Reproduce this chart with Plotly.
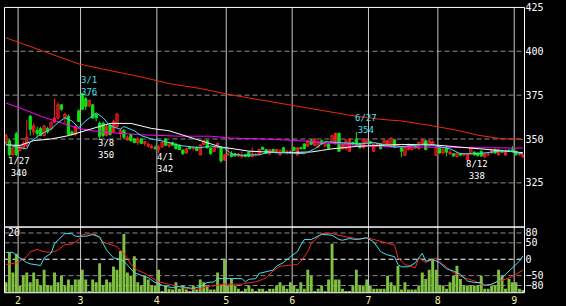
import plotly.graph_objects as go

# ---------------- data ----------------
# trading-day index 0..149 (late Jan .. early Sep)
MONTH_START_IDX = [4, 22, 44, 64, 83, 105, 125, 147]
MONTH_LABELS = ["2", "3", "4", "5", "6", "7", "8", "9"]

OPEN = [348, 349, 341, 353, 343.5, 345, 346, 363, 354, 355,
        356, 352, 356, 355.5, 359.5, 362, 369.5, 362, 363, 354,
        352.5, 366, 376, 373, 369, 369.5, 364, 359, 359, 352,
        358, 354, 357, 353, 355, 349.5, 352.5, 350, 348, 350,
        347.5, 346, 345, 345, 344, 345.5, 350, 346, 348, 347,
        346.5, 343.7, 342, 345.5, 344.5, 345, 341, 347, 349, 344.8,
        343, 345.5, 345.5, 338, 341, 341.5, 341.5, 340.3, 340, 341,
        342.5, 340, 341, 341, 345.3, 344, 341.5, 344, 342, 341,
        345, 342.5, 342, 345.3, 341, 345, 347.2, 346, 349, 346.5,
        345.5, 349, 346, 347.2, 348, 347.2, 353.3, 344.4, 344.5, 343,
        348, 350, 347.5, 345, 347.5, 348.5, 343, 347, 347.2, 346.5,
        346.5, 345.5, 349.5, 346, 345.3, 340.7, 344, 344, 346, 344.5,
        346.5, 349, 346, 347, 340.7, 345.3, 342, 345, 341.5, 341.6,
        340, 341.6, 341, 338, 341.5, 342.5, 342, 343, 340, 341,
        342, 344, 341, 343.5, 340.8, 343.5, 344, 343, 341, 339.8]
HIGH = [353, 350, 346, 354, 347, 349, 361, 364, 359, 357,
        357, 358, 357, 360, 373, 371, 370, 365, 364, 355,
        358, 367, 376.3, 374, 372.5, 370, 364.5, 360, 360, 358,
        358.5, 361, 365, 356, 355.5, 352, 353, 350.5, 351, 350.5,
        349, 348, 347, 346.5, 346.5, 349, 350.5, 348.5, 348.5, 348,
        347, 344, 345, 346, 346, 346, 347, 349.5, 349.5, 345.5,
        346, 348, 346, 341.5, 345.5, 343, 342, 341.8, 343, 341.5,
        343, 345, 342, 344.5, 345.5, 344.3, 344, 344.5, 344.5, 344,
        345.5, 343.5, 343.5, 345.5, 345.5, 345.5, 347.5, 349.5, 350, 350.5,
        349, 349.5, 348, 347.5, 352, 353.5, 353.5, 347.5, 350, 350.5,
        348.5, 354, 348, 350.5, 349.5, 349, 347.5, 348, 347.5, 349.5,
        349.5, 351, 350, 347, 345.5, 345.5, 347.5, 346.5, 346.5, 348.5,
        350, 349.5, 349.5, 349, 345.5, 345.5, 345, 346, 343.5, 342,
        342.5, 342, 342, 341.8, 345.5, 343, 342.5, 343.5, 342.5, 342.5,
        344, 344.5, 344.5, 344, 344, 344.5, 346, 343.5, 342, 341.2]
LOW = [347, 340, 340.5, 340.5, 343, 344, 345.5, 352, 352, 351,
       351.5, 351.5, 353, 355, 359, 361, 366, 359, 352, 352,
       352, 359.5, 366.5, 366.5, 368, 361.5, 360, 350, 351, 351.5,
       352, 353.5, 356.5, 350.5, 350, 349, 348.5, 347.5, 346.5, 347,
       346, 345, 344.5, 344, 342, 345, 346, 345, 346, 344,
       343.5, 341, 341.5, 344, 343.5, 343, 340.5, 346.5, 344.5, 341,
       342.5, 344.5, 336.5, 337.5, 340.5, 339.5, 340, 339.8, 339, 339.5,
       339.5, 339.5, 340, 340.5, 343.8, 341.5, 341, 342.5, 341.5, 340.5,
       342, 341, 341.5, 343.3, 340.5, 344, 344, 345.5, 346.5, 346,
       345, 347, 345.5, 344.5, 347.5, 347, 342.6, 344, 343.5, 342.5,
       346.3, 346, 344.5, 344.5, 347, 347, 342.5, 346, 344, 346,
       346, 345, 345, 345.5, 339.8, 340.5, 343.5, 343.5, 344.5, 344,
       346, 343.5, 345.5, 346.5, 340.5, 341.5, 341.5, 340.2, 341, 340,
       339.5, 340.5, 340, 338, 341, 340.5, 340, 339.8, 339, 340.5,
       341.5, 341.5, 340.5, 342, 340.5, 342.5, 342.5, 340.5, 340.5, 339.5]
CLOSE = [352, 341, 345, 341, 346, 347.5, 351, 355.5, 357.5, 353,
         352, 357.5, 354, 359.5, 362, 369.5, 367, 364, 352.5, 352.5,
         357, 360, 367, 368.5, 372, 362, 362, 351.5, 352, 357,
         352.5, 360, 364, 355, 351, 351, 349, 348, 350, 347.5,
         348.5, 347, 346, 344.5, 345.5, 348, 346.5, 348, 346.5, 344.5,
         344, 341.6, 344.5, 344.5, 345, 343.5, 346.5, 349, 345, 341.6,
         345.5, 347.5, 337.5, 341, 341.5, 340, 340.3, 341.5, 341, 340,
         340, 341.5, 341.2, 344, 344, 341.8, 343.8, 343, 344, 343.5,
         342.5, 343, 343, 343.5, 345, 344.5, 344.5, 349, 347, 350,
         348.5, 347.2, 347.5, 344.8, 351.9, 353.3, 343, 347.2, 349, 350,
         347, 346.5, 345, 350, 349, 347.3, 347.2, 347.5, 344.5, 349,
         349, 350.5, 345.3, 346.5, 343, 345.3, 347, 346, 345, 348,
         349.5, 344, 349, 348.5, 345.3, 342, 344, 342.5, 342.5, 340.3,
         342, 340.8, 341.5, 341.6, 345, 341, 340.5, 340.3, 341.5, 341.5,
         343.5, 342, 344, 342.5, 343.5, 343, 343, 341, 341.5, 341]

VOLUME = [3.2, 12.2, 6.2, 11.9, 2.2, 5.2, 6.2, 3.2, 6.2, 4.2,
          2.2, 7.0, 2.2, 2.2, 6.2, 3.2, 5.2, 2.2, 4.0, 2.2,
          4.0, 4.0, 7.0, 4.0, 0.5, 4.0, 3.2, 9.0, 2.2, 4.0,
          3.2, 8.0, 7.0, 12.7, 17.9, 6.2, 5.2, 11.1, 3.2, 2.2,
          5.0, 4.0, 2.2, 2.2, 7.0, 0.5, 2.2, 1.2, 1.0, 3.2,
          1.2, 2.2, 1.0, 0.5, 2.2, 1.0, 4.0, 3.2, 2.0, 1.0,
          1.0, 6.2, 2.2, 10.1, 2.2, 4.2, 2.2, 1.2, 0.5, 1.2,
          2.2, 1.2, 0.5, 1.2, 1.2, 0.5, 1.2, 1.2, 2.2, 3.2,
          2.2, 1.2, 3.2, 2.2, 1.2, 3.2, 1.2, 7.0, 5.2, 0.5,
          1.2, 2.2, 0.5, 4.0, 14.9, 4.0, 4.0, 1.2, 0.5, 0.5,
          2.2, 7.0, 2.2, 2.2, 4.0, 2.2, 1.2, 1.2, 1.2, 1.2,
          5.2, 3.2, 2.2, 8.2, 1.0, 3.2, 1.0, 1.0, 1.0, 2.2,
          6.2, 4.2, 7.0, 10.0, 7.0, 2.2, 2.2, 1.2, 3.2, 5.2,
          8.2, 4.2, 2.2, 2.2, 2.2, 2.2, 2.2, 5.2, 1.2, 1.2,
          2.2, 2.2, 7.0, 5.2, 1.2, 4.2, 3.2, 3.2, 1.2, 0.8]

# moving averages, sampled (day index, price)
MA_LONG_X = [0, 4, 13, 21, 30, 39, 47, 56, 65, 73, 82, 91, 99, 108, 114, 123, 130, 136, 142, 149]
MA_LONG_Y = [407.7, 404.9, 398.4, 392.8, 389.0, 385.4, 381.6, 378.8, 375.1, 372.3,
             369.2, 366.4, 363.6, 361.2, 360.3, 357.5, 355.0, 352.2, 350.4, 349.7]
MA_MID_X = [0, 4, 10, 14, 18, 21, 27, 33, 39, 50, 59, 65, 75, 84, 90, 99, 104, 113, 121, 133, 149]
MA_MID_Y = [370.5, 367.7, 363.0, 360.3, 357.8, 356.0, 354.1, 353.2, 352.4, 351.6, 351.6,
            350.5, 350.0, 349.1, 348.2, 346.7, 346.1, 345.5, 345.4, 345.0, 344.8]
MA_25_X = [0, 4, 8, 13, 18, 21, 27, 30, 36, 42, 47, 53, 56, 62, 66, 70, 79, 88, 91, 94,
           101, 106, 114, 123, 129, 136, 142, 149]
MA_25_Y = [346.7, 346.3, 349.1, 350.0, 351.9, 353.7, 357.5, 358.9, 358.9, 356.0, 354.7,
           351.0, 349.0, 345.4, 344.3, 343.1, 342.2, 342.6, 343.5, 344.4, 345.8, 346.3,
           346.9, 346.7, 345.8, 344.4, 343.5, 342.2]
MA_5_X = [0, 3, 6, 7, 10, 13, 15, 17, 19, 21, 23, 26, 28, 30, 33, 34, 37, 39, 42, 46,
          50, 56, 59, 63, 65, 68, 73, 76, 86, 89, 92, 95, 102, 106, 112, 115, 118, 121,
          128, 131, 136, 140, 144, 149]
MA_5_Y = [347.2, 345.4, 344.4, 348.2, 352.8, 355.6, 359.3, 362.1, 360.3, 356.5, 360.3,
          364.9, 362.1, 357.5, 355.6, 357.1, 354.7, 351.9, 350.0, 348.5, 346.3, 345.0,
          346.0, 344.8, 341.6, 340.7, 341.0, 342.6, 341.6, 344.4, 348.5, 348.2, 347.2,
          348.0, 345.4, 345.8, 346.3, 347.2, 344.4, 341.6, 341.6, 342.6, 343.5, 341.6]

# oscillators (RCI), sampled (day index, value)
RCI_S_X = [0, 2, 4, 6, 7, 10, 11, 13, 14, 16, 17, 19, 20, 23, 25, 27, 28, 29, 31, 33,
           34, 36, 37, 39, 41, 43, 45, 46, 48, 50, 52, 54, 56, 58, 60, 61, 68, 69, 70,
           72, 73, 75, 77, 78, 80, 82, 84, 85, 86, 88, 89, 91, 94, 96, 97, 99, 101, 104,
           106, 108, 110, 112, 113, 114, 116, 118, 120, 121, 123, 125, 127, 129, 131,
           133, 135, 137, 138, 140, 142, 144, 146, 148, 149]
RCI_S_Y = [21, 21, 4, -10, -14, -19, 4, 18, 48, 68, 78, 78, 70, 70, 75, 68, 48, 28, 4, 0,
           -6, -31, -41, -49, -56, -71, -79, -83, -86, -83, -86, -89, -83, -71, -69, -59,
           -59, -69, -61, -59, -43, -39, -33, -21, -10, 8, 23, 43, 60, 60, 65, 76, 73, 60,
           58, 63, 60, 65, 53, 23, 13, 8, -16, -23, -23, -11, 18, -6, 0, -11, -29, -36,
           -46, -66, -71, -71, -79, -76, -66, -46, -26, -6, 10]
RCI_L_X = [0, 3, 4, 6, 7, 9, 11, 13, 15, 17, 19, 21, 22, 24, 26, 28, 30, 32, 33, 35,
           36, 38, 40, 42, 44, 45, 47, 49, 52, 54, 56, 58, 60, 62, 68, 69, 72, 74, 75,
           77, 79, 81, 84, 85, 86, 87, 88, 90, 91, 94, 96, 98, 100, 102, 104, 107, 110,
           112, 113, 115, 118, 119, 121, 122, 124, 126, 129, 132, 135, 138, 140, 142,
           144, 146, 149]
RCI_L_Y = [-16, -11, -6, 8, 23, 30, 23, 21, 28, 45, 46, 60, 75, 78, 75, 53, 45, 38, 28, 4,
           -16, -34, -43, -56, -69, -71, -76, -83, -89, -91, -91, -83, -81, -76, -76,
           -73, -69, -61, -56, -36, -21, -19, -16, -6, 8, 23, 48, 66, 78, 78, 72, 68, 65,
           61, 66, 58, 50, 43, 4, -16, -26, 4, -10, -5, 4, -16, -41, -56, -66, -81, -76,
           -66, -61, -53, -33]

# high / low marks
MARK_IDX = [1, 22, 27, 44, 101, 133]
MARK_DATE = ["1/27", "3/1", "3/8", "4/1", "6/27", "8/12"]
MARK_PRICE = [340, 376, 350, 342, 354, 338]
MARK_KIND = ["low", "high", "low", "low", "high", "low"]

PRICE_TICKS = [425, 400, 375, 350, 325]
RCI_TICKS = [80, 50, 0, -50, -80]
VOL_LABEL = "20"

# ---------------- styling ----------------
W, HGT = 566, 306
PX_L, PX_R = 4.5, 524.5
PY_TOP, PY_MID, PY_BOT = 2.5, 226.5, 293.5
FONT = "DejaVu Sans Mono"
RED = "#ff2020"
GREEN = "#10e010"
CYAN = "#40e0f0"
MAGENTA = "#ff00ff"
LONGRED = "#ee2a08"
VOLC = "#80c040"
GRID = "#8c8c8c"
VGRID = "#c8c8c8"
MONTHC = "#f0f0a8"


def fx(p):
    return p / W


def fy(p):
    return 1 - p / HGT


N = len(OPEN)
idx = list(range(N))
up = [i for i in idx if CLOSE[i] >= OPEN[i]]
dn = [i for i in idx if CLOSE[i] < OPEN[i]]

fig = go.Figure()


def wicks(sel, color):
    xs, ys = [], []
    for i in sel:
        xs += [i, i, None]
        ys += [LOW[i], HIGH[i], None]
    return go.Scatter(x=xs, y=ys, mode="lines", line=dict(color=color, width=1),
                      xaxis="x", yaxis="y", hoverinfo="skip", showlegend=False)


fig.add_trace(wicks(up, RED))
fig.add_trace(wicks(dn, GREEN))

BW = 0.66
fig.add_trace(go.Bar(x=up, y=[max(CLOSE[i] - OPEN[i], 0.3) for i in up],
                     base=[OPEN[i] for i in up], width=BW,
                     marker=dict(color="black", line=dict(color=RED, width=1)),
                     xaxis="x", yaxis="y", showlegend=False))
fig.add_trace(go.Bar(x=dn, y=[max(OPEN[i] - CLOSE[i], 0.3) for i in dn],
                     base=[CLOSE[i] for i in dn], width=BW,
                     marker=dict(color=GREEN, line=dict(color=GREEN, width=1)),
                     xaxis="x", yaxis="y", showlegend=False))

for xs, ys, col in [(MA_LONG_X, MA_LONG_Y, LONGRED), (MA_MID_X, MA_MID_Y, MAGENTA),
                    (MA_25_X, MA_25_Y, "white"), (MA_5_X, MA_5_Y, CYAN)]:
    fig.add_trace(go.Scatter(x=xs, y=ys, mode="lines", line=dict(color=col, width=1),
                             xaxis="x", yaxis="y", showlegend=False, hoverinfo="skip"))

# volume (y2) and RCI (y3, on top)
fig.add_trace(go.Bar(x=idx, y=VOLUME, width=0.84, marker=dict(color=VOLC, line=dict(width=0)),
                     xaxis="x2", yaxis="y2", showlegend=False))
fig.add_trace(go.Scatter(x=RCI_L_X, y=RCI_L_Y, mode="lines", line=dict(color=RED, width=1),
                         xaxis="x2", yaxis="y3", showlegend=False))
fig.add_trace(go.Scatter(x=RCI_S_X, y=RCI_S_Y, mode="lines", line=dict(color=CYAN, width=1),
                         xaxis="x2", yaxis="y3", showlegend=False))

XR = [-0.42, N - 0.53]
XD = [fx(PX_L), fx(PX_R)]
tickfont = dict(family=FONT, size=10, color="white")

fig.update_layout(
    width=W, height=HGT, margin=dict(l=0, r=0, t=0, b=0),
    paper_bgcolor="black", plot_bgcolor="black",
    barmode="overlay", showlegend=False,
    xaxis=dict(domain=XD, range=XR, anchor="y", visible=False),
    yaxis=dict(domain=[fy(PY_MID), fy(PY_TOP)], range=[299.8, 425], side="right",
               anchor="x", tickvals=PRICE_TICKS, ticks="", showgrid=False,
               zeroline=False, showline=False, tickfont=tickfont,
               ticklabeloverflow="allow"),
    xaxis2=dict(domain=XD, range=XR, anchor="y2",
                tickvals=[m - 0.5 for m in MONTH_START_IDX], ticktext=MONTH_LABELS,
                ticks="", showgrid=False, zeroline=False, showline=False,
                ticklabeloverflow="allow",
                tickfont=dict(family=FONT, size=10, color=MONTHC)),
    yaxis2=dict(domain=[fy(PY_BOT), fy(PY_MID)], range=[0, 20], anchor="x2",
                visible=False),
    yaxis3=dict(domain=[fy(PY_BOT), fy(PY_MID)], range=[-102, 98], overlaying="y2",
                anchor="x2", side="right", tickvals=RCI_TICKS, ticks="",
                showgrid=False, zeroline=False, showline=False, tickfont=tickfont,
                ticklabeloverflow="allow"),
)

shapes = []
for v in PRICE_TICKS[1:]:
    shapes.append(dict(type="line", xref="paper", yref="y", x0=XD[0], x1=XD[1], y0=v, y1=v,
                       line=dict(color=GRID, width=1, dash="5px,3px"), layer="below"))
for v in RCI_TICKS:
    shapes.append(dict(type="line", xref="paper", yref="y3", x0=XD[0], x1=XD[1], y0=v, y1=v,
                       line=dict(color="white" if v == 0 else GRID, width=1, dash="5px,3px"),
                       layer="below"))
for m in MONTH_START_IDX:
    shapes.append(dict(type="line", xref="x", yref="paper", x0=m - 0.5, x1=m - 0.5,
                       y0=fy(PY_BOT), y1=fy(PY_TOP), line=dict(color=VGRID, width=1),
                       layer="below"))
for top, bot in [(PY_TOP, PY_MID), (PY_MID, PY_BOT)]:
    shapes.append(dict(type="rect", xref="paper", yref="paper", x0=XD[0], x1=XD[1],
                       y0=fy(bot), y1=fy(top), line=dict(color="white", width=1),
                       fillcolor="rgba(0,0,0,0)", layer="above"))
fig.update_layout(shapes=shapes)

ann = []
for i, d, p, k in zip(MARK_IDX, MARK_DATE, MARK_PRICE, MARK_KIND):
    col = CYAN if k == "high" else "white"
    n = max(len(d), len(str(p)))
    xs = 2.7 * n - 1.5
    if k == "low":
        yanchor, ys = "top", 3
    else:
        yanchor, ys = "bottom", -5.5
    ann.append(dict(x=i, y=p, xref="x", yref="y", text=d + "<br>" + str(p), showarrow=False,
                    xanchor="center", yanchor=yanchor, xshift=xs, yshift=ys, align="center",
                    font=dict(family=FONT, size=9, color=col)))
ann.append(dict(x=fx(14), y=fy(231.7), xref="paper", yref="paper", text=VOL_LABEL,
                showarrow=False, xanchor="center", yanchor="middle",
                font=dict(family=FONT, size=10, color="white")))
fig.update_layout(annotations=ann)

fig.write_html("out.html")
